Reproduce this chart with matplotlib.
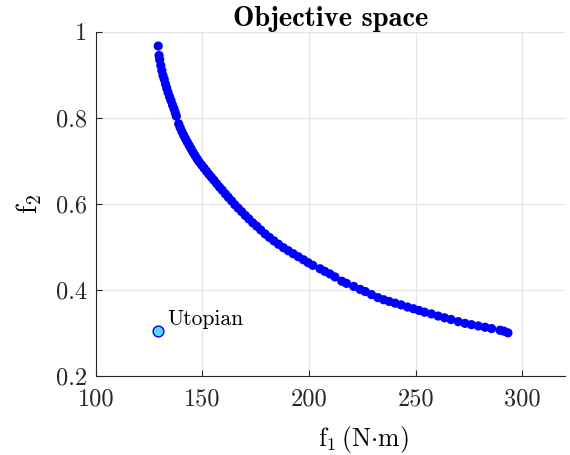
import numpy as np
import matplotlib
matplotlib.use("Agg")
import matplotlib.pyplot as plt

# Pareto front
f1 = [129.3, 129.7, 130.0, 130.5, 131.0, 131.5, 132.1, 132.7, 133.3, 133.9,
      134.6, 135.3, 136.0, 136.7, 137.3, 137.8, 138.9, 139.6, 140.4, 141.2,
      142.0, 142.9, 143.8, 144.7, 145.6, 146.6, 147.6, 148.6, 149.7, 150.8,
      151.9, 153.0, 154.2, 155.4, 156.7, 158.0, 159.3, 160.8, 162.2, 163.7,
      165.2, 166.8, 168.4, 170.1, 171.8, 173.6, 175.5, 177.4, 179.4, 181.4,
      183.5, 185.7, 188.0, 190.3, 192.6, 195.0, 197.4, 199.6, 201.8, 205.2,
      207.4, 209.8, 212.2, 215.4, 217.6, 221.0, 224.0, 226.4, 229.3, 232.3,
      235.0, 237.6, 240.4, 243.2, 246.2, 249.0, 251.6, 254.2, 257.4, 260.6,
      263.6, 266.6, 270.0, 273.2, 276.2, 279.4, 282.6, 285.6, 289.6, 291.4,
      293.3]
f2 = [0.967, 0.945, 0.935, 0.922, 0.910, 0.899, 0.890, 0.879, 0.869, 0.859,
      0.849, 0.840, 0.830, 0.821, 0.812, 0.804, 0.786, 0.777, 0.768, 0.760,
      0.752, 0.744, 0.736, 0.728, 0.720, 0.712, 0.704, 0.697, 0.690, 0.683,
      0.676, 0.669, 0.662, 0.655, 0.647, 0.639, 0.632, 0.623, 0.615, 0.607,
      0.598, 0.590, 0.582, 0.573, 0.565, 0.556, 0.548, 0.539, 0.530, 0.522,
      0.514, 0.506, 0.498, 0.491, 0.484, 0.477, 0.470, 0.463, 0.457, 0.449,
      0.443, 0.437, 0.430, 0.420, 0.415, 0.408, 0.401, 0.396, 0.389, 0.382,
      0.377, 0.373, 0.369, 0.365, 0.360, 0.356, 0.352, 0.348, 0.344, 0.339,
      0.335, 0.331, 0.326, 0.322, 0.319, 0.316, 0.313, 0.310, 0.306, 0.304,
      0.300]

utopian = (129.2, 0.304)
xticks = [100, 150, 200, 250, 300]
yticks = [0.2, 0.4, 0.6, 0.8, 1.0]
ytick_labels = ["0.2", "0.4", "0.6", "0.8", "1"]

plt.rcParams["font.family"] = "cmr10"
plt.rcParams["mathtext.fontset"] = "cm"
plt.rcParams["axes.formatter.use_mathtext"] = True

fig = plt.figure(figsize=(5.7, 4.55), dpi=100)
ax = fig.add_axes([0.168, 0.174, 0.823, 0.756])

ax.scatter(f1, f2, s=44, color="#0000ff", edgecolors="none", zorder=3)
ax.scatter([utopian[0]], [utopian[1]], s=60, color="#5cd8ff", edgecolors="#0000ff",
           linewidths=1.0, zorder=3)
ax.text(utopian[0] + 4.5, utopian[1] + 0.027, "Utopian", fontsize=15.5, color="black",
        va="center", ha="left")

ax.set_xlim(100, 320)
ax.set_ylim(0.2, 1.0)
ax.set_xticks(xticks)
ax.set_yticks(yticks)
ax.set_xticklabels([str(t) for t in xticks])
ax.set_yticklabels(ytick_labels)
ax.tick_params(direction="in", labelsize=17.5, colors="#262626", length=4, width=0.8)
ax.tick_params(axis="x", pad=9)
ax.tick_params(axis="y", pad=6)

ax.grid(True, color="#e6e6e6", linewidth=0.9)
ax.set_axisbelow(True)
for side in ["top", "right"]:
  ax.spines[side].set_visible(False)
for side in ["left", "bottom"]:
  ax.spines[side].set_color("#262626")
  ax.spines[side].set_linewidth(0.8)

ax.set_title("Objective space", fontfamily="cmb10", fontsize=20.5, pad=3)
ax.set_xlabel(r"$\mathrm{f}_{1}\,(\mathrm{N}{\cdot}\mathrm{m})$", fontsize=18.5)
ax.set_ylabel(r"$\mathrm{f}_{2}$", fontsize=20)
ax.xaxis.set_label_coords(0.571, -0.14)
ax.yaxis.set_label_coords(-0.11, 0.5)

plt.savefig("out.png", dpi=100)
